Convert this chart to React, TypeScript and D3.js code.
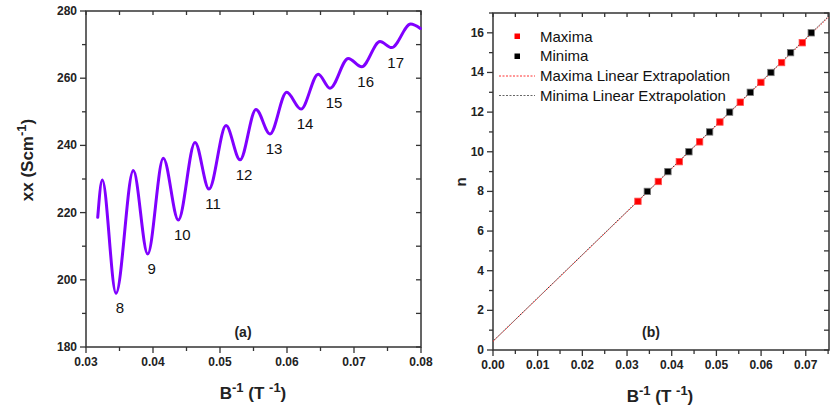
import * as d3 from "d3";

// left panel: conductivity trace (B^-1, sigma_xx) read at the turning points
const traceX = [0.03175, 0.03243, 0.03448, 0.03706, 0.03921, 0.04154, 0.04378, 0.04627, 0.04836, 0.0509, 0.05299, 0.05537, 0.05746, 0.05995, 0.06209, 0.06467, 0.06642, 0.06915, 0.07115, 0.07388, 0.07562, 0.07846, 0.0799];
const traceY = [218.6, 229.7, 196, 232.5, 207.7, 236.2, 217.8, 240.9, 227, 245.9, 235.7, 250.7, 243.4, 255.8, 250.8, 261.2, 257, 265.9, 263.4, 270.9, 269.1, 276.1, 274.8];
const minimaLabels = ["8", "9", "10", "11", "12", "13", "14", "15", "16", "17"];

// right panel: Landau level index vs B^-1
const maxX = [0.03244, 0.037, 0.0417, 0.04624, 0.05078, 0.05534, 0.05996, 0.06459, 0.06922];
const maxN = [7.5, 8.5, 9.5, 10.5, 11.5, 12.5, 13.5, 14.5, 15.5];
const minX = [0.03454, 0.03915, 0.04385, 0.04848, 0.05295, 0.05758, 0.0622, 0.0666, 0.07123];
const minN = [8, 9, 10, 11, 12, 13, 14, 15, 16];

const legendLabels = ["Maxima", "Minima", "Maxima Linear Extrapolation", "Minima Linear Extrapolation"];

const FONT = "Arial, 'Liberation Sans', sans-serif";
const AXIS = "#333";

function fit(xs: number[], ys: number[]) {
  const mx = d3.mean(xs)!;
  const my = d3.mean(ys)!;
  let num = 0;
  let den = 0;
  xs.forEach((x, i) => {
    num += (x - mx) * (ys[i] - my);
    den += (x - mx) * (x - mx);
  });
  const slope = num / den;
  return { slope, intercept: my - slope * mx };
}

type Frame = {
  x: d3.ScaleLinear<number, number>;
  y: d3.ScaleLinear<number, number>;
  xMajor: number[];
  xMinor: number[];
  yMajor: number[];
  yMinor: number[];
  xFmt: (d: number) => string;
  yFmt: (d: number) => string;
};

function Axes({ x, y, xMajor, xMinor, yMajor, yMinor, xFmt, yFmt }: Frame) {
  const [x0, x1] = x.range();
  const [y0, y1] = y.range();
  return (
    <g>
      <rect x={x0} y={y1} width={x1 - x0} height={y0 - y1} fill="none" stroke={AXIS} strokeWidth={1.5} />
      {xMajor.map((d) => (
        <g key={"xM" + d}>
          <line x1={x(d)} x2={x(d)} y1={y0} y2={y0 + 6} stroke={AXIS} strokeWidth={1.3} />
          <line x1={x(d)} x2={x(d)} y1={y1} y2={y1 + 4} stroke={AXIS} strokeWidth={1.3} />
          <text x={x(d)} y={y0 + 19} textAnchor="middle" fontSize={12} fontWeight="bold" fill="#222">
            {xFmt(d)}
          </text>
        </g>
      ))}
      {xMinor.map((d) => (
        <g key={"xm" + d}>
          <line x1={x(d)} x2={x(d)} y1={y0} y2={y0 + 4} stroke={AXIS} strokeWidth={1.3} />
          <line x1={x(d)} x2={x(d)} y1={y1} y2={y1 + 4} stroke={AXIS} strokeWidth={1.3} />
        </g>
      ))}
      {yMajor.map((d) => (
        <g key={"yM" + d}>
          <line x1={x0 - 6} x2={x0} y1={y(d)} y2={y(d)} stroke={AXIS} strokeWidth={1.3} />
          <line x1={x1 - 5} x2={x1} y1={y(d)} y2={y(d)} stroke={AXIS} strokeWidth={1.3} />
          <text x={x0 - 9} y={y(d) + 4} textAnchor="end" fontSize={12} fontWeight="bold" fill="#222">
            {yFmt(d)}
          </text>
        </g>
      ))}
      {yMinor.map((d) => (
        <g key={"ym" + d}>
          <line x1={x0 - 4} x2={x0} y1={y(d)} y2={y(d)} stroke={AXIS} strokeWidth={1.3} />
          <line x1={x1 - 5} x2={x1} y1={y(d)} y2={y(d)} stroke={AXIS} strokeWidth={1.3} />
        </g>
      ))}
    </g>
  );
}

function XTitle({ cx, y }: { cx: number; y: number }) {
  return (
    <text x={cx} y={y} textAnchor="middle" fontSize={17} fontWeight="bold" fill="#222">
      B<tspan dy={-7} fontSize={13}>-1</tspan>
      <tspan dy={7}> (T </tspan>
      <tspan dy={-7} fontSize={13}>-1</tspan>
      <tspan dy={7}>)</tspan>
    </text>
  );
}

export default function App() {
  // panel (a)
  const xa = d3.scaleLinear().domain([0.03, 0.08]).range([86, 421]);
  const ya = d3.scaleLinear().domain([180, 280]).range([347, 11]);
  const pts = traceX.map((d, i) => [d, traceY[i]] as [number, number]);
  const tracePath = d3
    .line<[number, number]>()
    .x((d) => xa(d[0]))
    .y((d) => ya(d[1]))
    .curve(d3.curveMonotoneX)(pts)!;
  const minima = pts.filter((_, i) => i >= 2 && i % 2 === 0);

  // panel (b)
  const xb = d3.scaleLinear().domain([0, 0.0752]).range([493, 829]);
  const yb = d3.scaleLinear().domain([0, 17]).range([350, 13]);
  const fMax = fit(maxX, maxN);
  const fMin = fit(minX, minN);
  const lineFor = (f: { slope: number; intercept: number }) => {
    const [a, b] = xb.domain();
    return `M${xb(a)},${yb(f.intercept + f.slope * a)}L${xb(b)},${yb(f.intercept + f.slope * b)}`;
  };

  const range = (a: number, b: number, s: number) => d3.range(0, Math.round((b - a) / s) + 1).map((i) => +(a + i * s).toFixed(4));

  return (
    <svg width={830} height={409} style={{ position: "absolute", left: 0, top: 0, fontFamily: FONT }}>
      <rect width={830} height={409} fill="#fff" />

      {/* (a) */}
      <Axes
        x={xa}
        y={ya}
        xMajor={range(0.03, 0.08, 0.01)}
        xMinor={range(0.035, 0.075, 0.01)}
        yMajor={range(180, 280, 20)}
        yMinor={range(190, 270, 20)}
        xFmt={(d) => d.toFixed(2)}
        yFmt={(d) => String(d)}
      />
      <path d={tracePath} fill="none" stroke="#8000ff" strokeWidth={3} strokeLinejoin="round" strokeLinecap="round" />
      {minima.map((d, i) => (
        <text key={i} x={xa(d[0]) + 4} y={ya(d[1]) + 20} textAnchor="middle" fontSize={15} fill="#111">
          {minimaLabels[i]}
        </text>
      ))}
      <text x={243} y={337} textAnchor="middle" fontSize={14} fontWeight="bold" fill="#222">(a)</text>
      <XTitle cx={253} y={399} />
      <text transform="translate(33,160) rotate(-90)" textAnchor="middle" fontSize={17} fontWeight="bold" fill="#222">
        xx (Scm<tspan dy={-7} fontSize={13}>-1</tspan>
        <tspan dy={7}>)</tspan>
      </text>

      {/* (b) */}
      <Axes
        x={xb}
        y={yb}
        xMajor={range(0, 0.07, 0.01)}
        xMinor={range(0.005, 0.075, 0.01)}
        yMajor={range(0, 16, 2)}
        yMinor={range(1, 17, 2)}
        xFmt={(d) => d.toFixed(2)}
        yFmt={(d) => String(d)}
      />
      <path d={lineFor(fMax)} fill="none" stroke="#ff3030" strokeWidth={1} strokeDasharray="1.5,1.5" />
      <path d={lineFor(fMin)} fill="none" stroke="#333" strokeWidth={1} strokeDasharray="1.5,1.5" strokeDashoffset={1.5} />
      {maxX.map((d, i) => (
        <rect key={"mx" + i} x={xb(d) - 3.2} y={yb(maxN[i]) - 3.2} width={6.4} height={6.4} fill="#ff0000" stroke="#ff5050" strokeWidth={0.8} />
      ))}
      {minX.map((d, i) => (
        <rect key={"mn" + i} x={xb(d) - 3.2} y={yb(minN[i]) - 3.2} width={6.4} height={6.4} fill="#000" stroke="#777" strokeWidth={0.8} />
      ))}
      <text x={651} y={337} textAnchor="middle" fontSize={14} fontWeight="bold" fill="#222">(b)</text>
      <XTitle cx={660} y={402} />
      <text transform="translate(466,182) rotate(-90)" textAnchor="middle" fontSize={15} fontWeight="bold" fill="#222">n</text>

      {/* legend */}
      <rect x={514.5} y={33.5} width={5.5} height={5.5} fill="#ff0000" />
      <rect x={514.5} y={53.5} width={5.5} height={5.5} fill="#000" />
      <line x1={499} x2={535} y1={76} y2={76} stroke="#ff3030" strokeWidth={1} strokeDasharray="2,1.5" />
      <line x1={499} x2={535} y1={95.5} y2={95.5} stroke="#666" strokeWidth={1} strokeDasharray="2,1.5" />
      {legendLabels.map((t, i) => (
        <text key={t} x={540} y={41.5 + i * 19.7} fontSize={15} fill="#111">{t}</text>
      ))}
    </svg>
  );
}
